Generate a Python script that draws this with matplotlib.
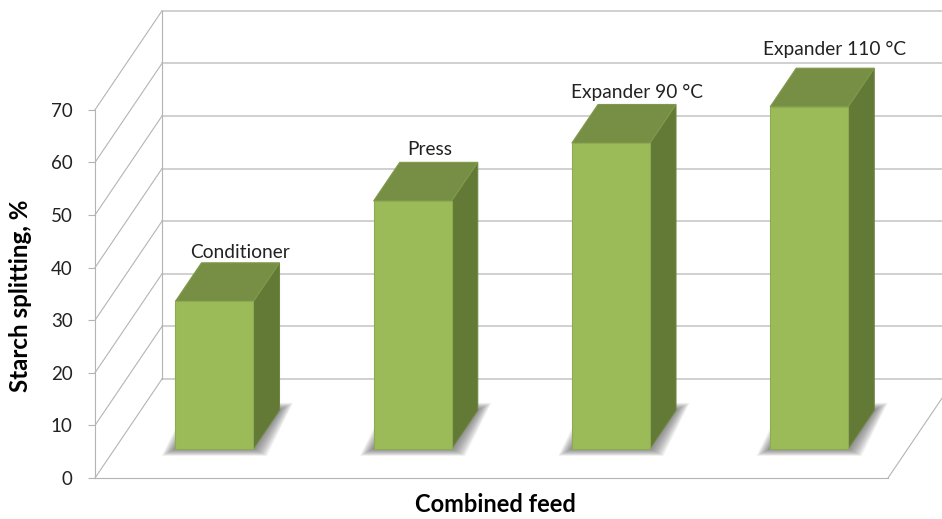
import matplotlib
matplotlib.use('Agg')
import matplotlib.pyplot as plt
from matplotlib.patches import Polygon

categories = ['Conditioner', 'Press', 'Expander 90 °C', 'Expander 110 °C']
values = [28.0, 47.1, 58.1, 65.0]
yticks = [0, 10, 20, 30, 40, 50, 60, 70]

# label shift from the top back edge of each bar, in pixels
label_dx = [0, -9, 0, -1]
label_dy = [10.5, 13, 12, 19]

W, H = 942, 519
PX_X = 198.25  # pixels per category
PX_Y = 5.26    # pixels per percent
X0, Y0 = 95, 478

# oblique depth of the floor
DX = 67 / PX_X
DY = 99 / PX_Y

BAR_W = 78 / PX_X
D_FRONT = 0.296
D_BACK = 0.686

plt.rcParams['font.family'] = ['Lato', 'DejaVu Sans']

fig = plt.figure(figsize=(W / 100, H / 100), dpi=100)
ax = fig.add_axes([0, 0, 1, 1])
ax.set_xlim(-X0 / PX_X, (W - X0) / PX_X)
ax.set_ylim(-(H - Y0) / PX_Y, Y0 / PX_Y)


def proj(x, v, d):
    return x + d * DX, v + d * DY


# walls
line = dict(color='#b4b4b4', lw=0.8, zorder=1)
n = len(categories)
for t in yticks:
    ax.plot(*zip(proj(0, t, 0), proj(0, t, 1)), **line)
    ax.plot(*zip(proj(0, t, 1), proj(n, t, 1)), color='#c4c4c4', lw=1.1, zorder=1)
ax.plot(*zip(proj(0, 0, 1), proj(0, yticks[-1], 1)), **line)
ax.plot(*zip(proj(n, 0, 0), proj(n, 0, 1)), **line)

# bars
for i, v in enumerate(values):
    left = i + 0.5 - BAR_W / 2 + 0.002
    right = left + BAR_W

    # soft shadow on the floor, a stack of faint growing shapes
    for k in range(16, 0, -1):
        mx = (k * 0.85) / PX_X
        my = (k * 0.45) / PX_Y
        pts = [proj(left - mx, -my, D_FRONT), proj(right + mx, -my, D_FRONT),
               proj(right + mx, my, D_BACK), proj(left - mx, my, D_BACK)]
        ax.add_patch(Polygon(pts, closed=True, fc='#555555', ec='none', alpha=0.06, zorder=2))

    front = [proj(left, 0, D_FRONT), proj(right, 0, D_FRONT),
             proj(right, v, D_FRONT), proj(left, v, D_FRONT)]
    side = [proj(right, 0, D_FRONT), proj(right, 0, D_BACK),
            proj(right, v, D_BACK), proj(right, v, D_FRONT)]
    top = [proj(left, v, D_FRONT), proj(right, v, D_FRONT),
           proj(right, v, D_BACK), proj(left, v, D_BACK)]
    ax.add_patch(Polygon(side, closed=True, fc='#637A37', ec='#6d8640', lw=0.8, zorder=3))
    ax.add_patch(Polygon(top, closed=True, fc='#778F45', ec='#82994c', lw=0.8, zorder=3))
    ax.add_patch(Polygon(front, closed=True, fc='#9BBB59', ec='#8dab50', lw=0.8, zorder=4))

    ax.annotate(categories[i], xy=proj((left + right) / 2, v, D_BACK),
                xytext=(label_dx[i] * 0.72, label_dy[i] * 0.72), textcoords='offset points',
                ha='center', va='center', fontsize=13.8, color='#222222', zorder=5)

# axes
for s in ['top', 'right']:
    ax.spines[s].set_visible(False)
ax.spines['left'].set_position(('data', 0))
ax.spines['left'].set_bounds(0, yticks[-1])
ax.spines['bottom'].set_position(('data', 0))
ax.spines['bottom'].set_bounds(0, n)
ax.spines['left'].set_color('#b4b4b4')
ax.spines['bottom'].set_color('#b4b4b4')
ax.set_xticks([])
ax.set_yticks(yticks)
ax.tick_params(axis='y', length=5, color='#b4b4b4', width=0.8, labelsize=13.5,
               labelcolor='#222222', pad=11)
ax.patch.set_alpha(0)

fig.text(21 / W, 1 - 295.5 / H, 'Starch splitting, %', rotation=90, ha='center', va='center',
         fontsize=17.4, fontweight='bold', color='black')
fig.text(495 / W, 1 - 505 / H, 'Combined feed', ha='center', va='center',
         fontsize=17, fontweight='bold', color='black')

fig.savefig('out.png', dpi=100)
